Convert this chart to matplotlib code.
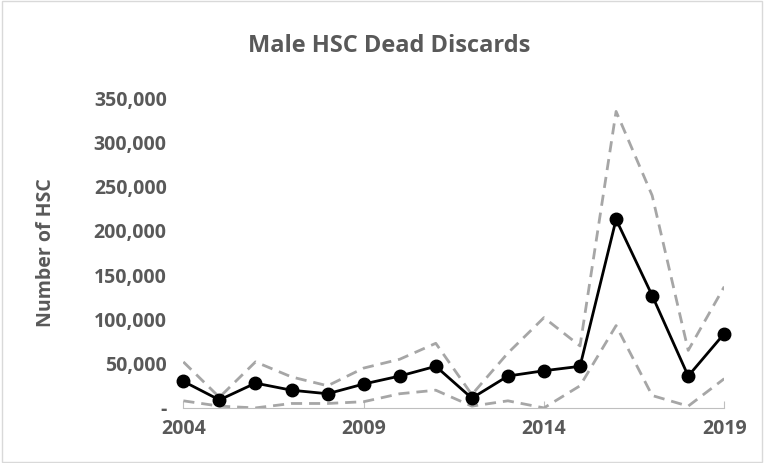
import matplotlib.pyplot as plt
from matplotlib.ticker import FuncFormatter

years = list(range(2004, 2020))
estimate = [30000, 9000, 28000, 20000, 16000, 27000, 36000, 47000, 11000, 36000, 42000, 47000, 213000, 127000, 36000, 84000]
upper = [52000, 12000, 52000, 35000, 25000, 45000, 55000, 73000, 15000, 62000, 102000, 70000, 335000, 240000, 65000, 137000]
lower = [8000, 2000, 0, 5000, 5000, 7000, 16000, 20000, 2000, 8000, 0, 25000, 93000, 14000, 2000, 33000]

plt.rcParams['font.family'] = ['Open Sans', 'DejaVu Sans']
grey = '#595959'

fig = plt.figure(figsize=(7.64, 4.63), dpi=100)
ax = fig.add_axes([0.24, 0.119, 0.708, 0.669])
ax.plot(years, upper, color='#a6a6a6', lw=2, ls='--', dashes=(4, 2.5))
ax.plot(years, lower, color='#a6a6a6', lw=2, ls='--', dashes=(4, 2.5))
ax.plot(years, estimate, color='black', lw=2, marker='o', ms=9, clip_on=False, zorder=5)

ax.set_xlim(2004, 2019)
ax.set_ylim(0, 350000)
ax.set_xticks([2004, 2009, 2014, 2019])
ax.set_yticks(range(0, 350001, 50000))
ax.yaxis.set_major_formatter(FuncFormatter(lambda v, p: '-' if v == 0 else f'{int(v):,}'))
for s in ['top', 'right', 'left']:
    ax.spines[s].set_visible(False)
ax.spines['bottom'].set_color('#bfbfbf')
ax.tick_params(axis='y', length=0, pad=12)
ax.tick_params(axis='x', direction='in', length=5, color='#bfbfbf', pad=8)
for lab in ax.get_xticklabels() + ax.get_yticklabels():
    lab.set_fontsize(14)
    lab.set_fontweight('bold')
    lab.set_color(grey)
ax.set_ylabel('Number of HSC', fontsize=14, fontweight='bold', color=grey)
ax.yaxis.set_label_coords(-0.235, 0.5)
fig.text(0.51, 0.9, 'Male HSC Dead Discards', fontsize=17, fontweight='bold', color=grey, ha='center', va='center')
fig.patches.append(plt.Rectangle((0.002, 0.002), 0.996, 0.996, transform=fig.transFigure,
                                 fill=False, edgecolor='#d9d9d9', lw=1))
fig.savefig('out.png')
